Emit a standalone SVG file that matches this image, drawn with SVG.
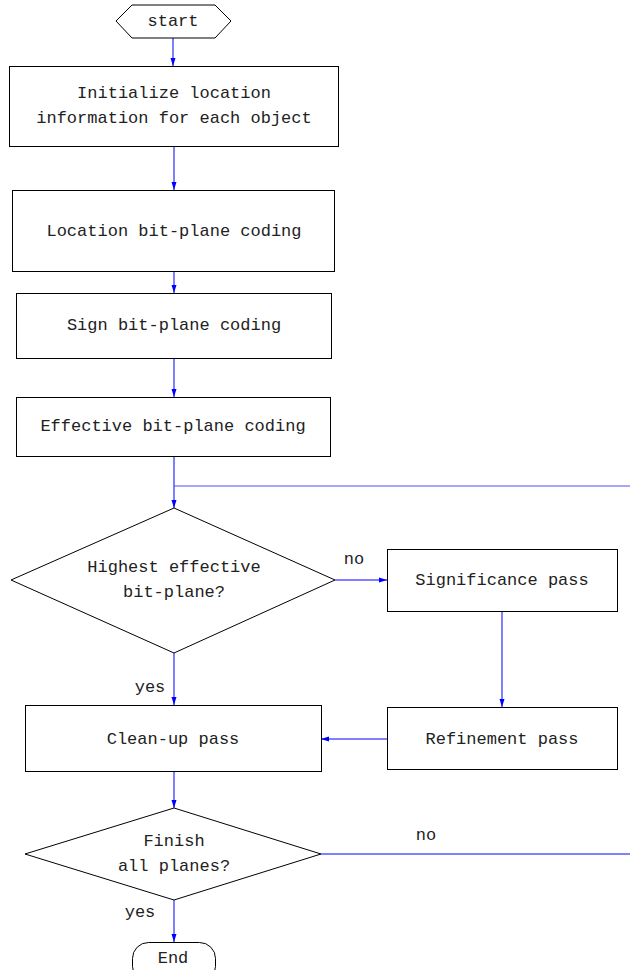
<svg xmlns="http://www.w3.org/2000/svg" width="630" height="970" viewBox="0 0 630 970">
<style>
.n{fill:#fff;stroke:#000;stroke-width:1}
.t{font-family:"Liberation Mono","DejaVu Sans Mono",monospace;font-size:17px;fill:#222;text-anchor:middle;dominant-baseline:central}
.c{fill:none;stroke:#0000ff;stroke-width:1}
</style>
<defs>
<marker id="a" viewBox="0 0 8 8" refX="8" refY="4" markerWidth="8" markerHeight="8" markerUnits="userSpaceOnUse" orient="auto">
<path d="M0,1.5 L8,4 L0,6.5 Z" fill="#0000ff"/>
</marker>
</defs>
<rect width="630" height="970" fill="#fff"/>
<g id="connectors">
<path class="c" d="M173,38 V66" marker-end="url(#a)"/>
<path class="c" d="M174,146 V190" marker-end="url(#a)"/>
<path class="c" d="M174,271 V293" marker-end="url(#a)"/>
<path class="c" d="M174,358 V397" marker-end="url(#a)"/>
<path class="c" d="M174,456 V508" marker-end="url(#a)"/>
<path d="M174,486 H630" fill="none" stroke="#5050ff" stroke-width="1.2"/>
<path class="c" d="M335,580 H387" marker-end="url(#a)"/>
<path class="c" d="M502,611 V707" marker-end="url(#a)"/>
<path class="c" d="M387,739 H321" marker-end="url(#a)"/>
<path class="c" d="M174,653 V705" marker-end="url(#a)"/>
<path class="c" d="M174,772 V808" marker-end="url(#a)"/>
<path class="c" d="M321,854 H630"/>
<path class="c" d="M174,900 V942" marker-end="url(#a)"/>
<text class="t" x="354" y="559">no</text>
<text class="t" x="150" y="687">yes</text>
<text class="t" x="426" y="835">no</text>
<text class="t" x="140" y="912">yes</text>
</g>
<g id="start">
<path class="n" d="M116,21 L132,5 H215 L231,21 L215,38 H132 Z"/>
<text class="t" x="173" y="21">start</text>
</g>
<g id="init">
<rect class="n" x="9.5" y="66.5" width="329" height="80"/>
<text class="t" x="174" y="93">Initialize location</text>
<text class="t" x="174" y="118">information for each object</text>
</g>
<g id="location">
<rect class="n" x="12.5" y="190.5" width="322" height="81"/>
<text class="t" x="174" y="231">Location bit-plane coding</text>
</g>
<g id="sign">
<rect class="n" x="16.5" y="293.5" width="315" height="65"/>
<text class="t" x="174" y="325">Sign bit-plane coding</text>
</g>
<g id="effective">
<rect class="n" x="16.5" y="397.5" width="314" height="59"/>
<text class="t" x="173" y="426">Effective bit-plane coding</text>
</g>
<g id="highest">
<path class="n" d="M174,508 L335,580 L174,653 L11,580 Z"/>
<text class="t" x="174" y="567">Highest effective</text>
<text class="t" x="174" y="592">bit-plane?</text>
</g>
<g id="significance">
<rect class="n" x="387.5" y="549.5" width="230" height="62"/>
<text class="t" x="502" y="580">Significance pass</text>
</g>
<g id="refinement">
<rect class="n" x="387.5" y="707.5" width="230" height="62"/>
<text class="t" x="502" y="739">Refinement pass</text>
</g>
<g id="cleanup">
<rect class="n" x="25.5" y="705.5" width="296" height="66"/>
<text class="t" x="173" y="739">Clean-up pass</text>
</g>
<g id="finish">
<path class="n" d="M174,808 L321,854 L174,900 L25,854 Z"/>
<text class="t" x="174" y="841">Finish</text>
<text class="t" x="174" y="866">all planes?</text>
</g>
<g id="end">
<rect class="n" x="132.5" y="942.5" width="83" height="40" rx="16" ry="16"/>
<text class="t" x="173" y="958">End</text>
</g>
</svg>
